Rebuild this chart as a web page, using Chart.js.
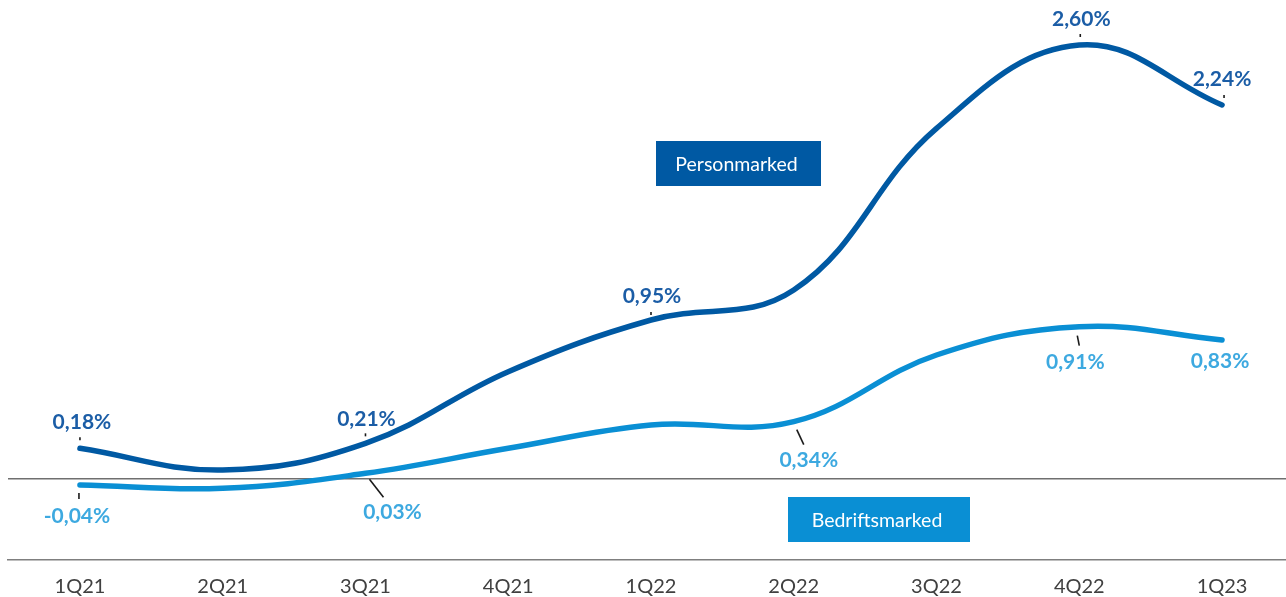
<!DOCTYPE html>
<html>
<head>
<meta charset="utf-8">
<script src="https://cdn.jsdelivr.net/npm/chart.js@4/dist/chart.umd.min.js"></script>
<style>
  html, body { margin: 0; padding: 0; background: #fff; }
  #wrap { width: 1286px; height: 597px; position: relative; }
</style>
</head>
<body>
<div id="wrap"><canvas id="chart"></canvas></div>
<script>
  var QUARTERS = ["1Q21", "2Q21", "3Q21", "4Q21", "1Q22", "2Q22", "3Q22", "4Q22", "1Q23"];
  var PERSON = [0.18, 0.05, 0.21, 0.64, 0.95, 1.13, 2.10, 2.60, 2.24];
  var BEDRIFT = [-0.04, -0.06, 0.03, 0.18, 0.32, 0.34, 0.74, 0.91, 0.83];
  // quarters that carry a value label
  var PERSON_LABELED = [0, 2, 4, 7, 8];
  var BEDRIFT_LABELED = [0, 2, 5, 7, 8];

  var DARK = "#0059A3", LIGHT = "#0A8FD4";
  var DARK_TXT = "#1B5DA6", LIGHT_TXT = "#3DA9E0";
  var FONT = "Lato, 'Open Sans', sans-serif";

  // label offset from the point, plus a short leader (relative to the point)
  var PERSON_POS = {
    0: { dx: 2, dy: -26, tick: [0, -11, 0, -8] },
    2: { dx: 1, dy: -24, tick: [0, -10, 0, -7] },
    4: { dx: 1, dy: -24, tick: [0, -8, 0, -5] },
    7: { dx: 2, dy: -26, tick: [1, -11, 1, -8] },
    8: { dx: 0, dy: -26, tick: [2, -10, 2, -7] }
  };
  var BEDRIFT_POS = {
    0: { dx: -3, dy: 31, tick: [-1, 8, -1, 14] },
    2: { dx: 27, dy: 39, tick: [4, 6, 18, 24] },
    5: { dx: 15, dy: 39, tick: [3, 8, 10, 23] },
    7: { dx: -4, dy: 36, tick: [-2, 9, 0, 19] },
    8: { dx: -2, dy: 21, tick: null }
  };

  var valueLabels = {
    id: "valueLabels",
    afterDatasetsDraw: function (chart) {
      var ctx = chart.ctx;
      var sets = [
        { meta: chart.getDatasetMeta(0), data: PERSON, idx: PERSON_LABELED, pos: PERSON_POS, color: DARK_TXT },
        { meta: chart.getDatasetMeta(1), data: BEDRIFT, idx: BEDRIFT_LABELED, pos: BEDRIFT_POS, color: LIGHT_TXT }
      ];
      ctx.save();
      ctx.font = "bold 21px " + FONT;
      ctx.textAlign = "center";
      ctx.textBaseline = "middle";
      sets.forEach(function (s) {
        s.idx.forEach(function (i) {
          var pt = s.meta.data[i], p = s.pos[i];
          if (p.tick) {
            ctx.strokeStyle = "#1a1a1a";
            ctx.lineWidth = 1.6;
            ctx.beginPath();
            ctx.moveTo(pt.x + p.tick[0], pt.y + p.tick[1]);
            ctx.lineTo(pt.x + p.tick[2], pt.y + p.tick[3]);
            ctx.stroke();
          }
          ctx.fillStyle = s.color;
          ctx.fillText(s.data[i].toFixed(2).replace(".", ",") + "%", pt.x + p.dx, pt.y + p.dy);
        });
      });
      ctx.restore();
    }
  };

  // series name boxes
  var BOXES = [
    { text: "Personmarked", x: 656, y: 141, w: 165, h: 45, color: DARK },
    { text: "Bedriftsmarked", x: 788, y: 497, w: 182, h: 45, color: LIGHT }
  ];
  var nameBoxes = {
    id: "nameBoxes",
    afterDraw: function (chart) {
      var ctx = chart.ctx;
      ctx.save();
      ctx.font = "19.5px " + FONT;
      ctx.textAlign = "center";
      ctx.textBaseline = "middle";
      BOXES.forEach(function (b) {
        ctx.fillStyle = b.color;
        ctx.fillRect(b.x, b.y, b.w, b.h);
        ctx.fillStyle = "#fff";
        ctx.fillText(b.text, b.x + b.w / 2 - 2, b.y + b.h / 2 + 1);
      });
      ctx.restore();
    }
  };

  new Chart(document.getElementById("chart"), {
    type: "line",
    data: {
      datasets: [
        { label: "Personmarked", data: PERSON.map(function (v, i) { return { x: i, y: v }; }),
          borderColor: DARK, borderWidth: 5.5, tension: 0.4, pointRadius: 0, borderCapStyle: "round" },
        { label: "Bedriftsmarked", data: BEDRIFT.map(function (v, i) { return { x: i, y: v }; }),
          borderColor: LIGHT, borderWidth: 5.5, tension: 0.4, pointRadius: 0, borderCapStyle: "round" }
      ]
    },
    options: {
      responsive: true, maintainAspectRatio: false, animation: false,
      layout: { padding: 0 },
      plugins: { legend: { display: false }, tooltip: { enabled: false } },
      scales: {
        x: {
          type: "linear", min: -0.504, max: 8.448,
          afterBuildTicks: function (scale) {
            scale.ticks = QUARTERS.map(function (q, i) { return { value: i }; });
          },
          afterFit: function (scale) { scale.height = 37; },
          grid: { display: false },
          border: { display: true, color: "#7f7f7f", width: 1.4 },
          ticks: {
            color: "#404040", font: { family: FONT, size: 20 }, padding: 7, maxRotation: 0,
            callback: function (v) { return QUARTERS[v]; }
          }
        },
        y: {
          min: -0.49, max: 2.87,
          afterFit: function (scale) { scale.width = 8; },
          ticks: { display: false },
          border: { display: false },
          grid: {
            drawTicks: false, lineWidth: 1.4,
            color: function (c) { return c.tick && c.tick.value === 0 ? "#6f6f6f" : "rgba(0,0,0,0)"; }
          }
        }
      }
    },
    plugins: [valueLabels, nameBoxes]
  });
</script>
</body>
</html>
